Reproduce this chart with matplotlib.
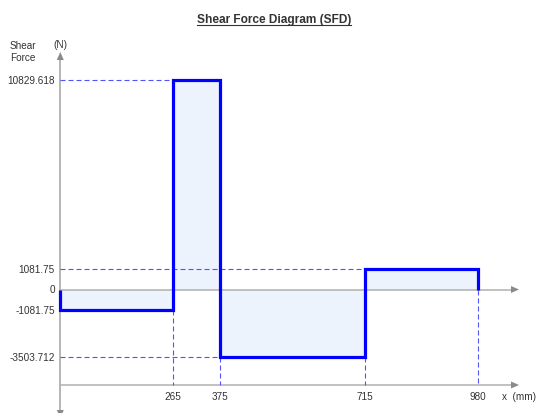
import matplotlib.pyplot as plt
from matplotlib.lines import Line2D
from matplotlib.patches import Polygon

plt.rcParams['font.family'] = ['Liberation Sans', 'DejaVu Sans']

# beam stations (mm) and constant shear in each span (N)
stations = [0, 265, 375, 715, 980]
shear = [-1081.75, 10829.618, -3503.712, 1081.75]
ytick_values = [10829.618, 1081.75, 0, -1081.75, -3503.712]
ytick_labels = ['10829.618', '1081.75', '0', '-1081.75', '-3503.712']
xtick_values = [265, 375, 715, 980]
xtick_labels = ['265', '375', '715', '980']

W, H = 540, 414
X0_PX, KX = 60.3, 0.4259      # pixel of x=0, px per mm
ZERO_PX, KY = 290.5, 0.0193   # pixel row of V=0, px per N

TEXT = '#333333'
AXIS = '#b0b0b0'
ARROW = '#8a8a8a'
DASH = '#5252ff'


def px_x(p):
    return (p - X0_PX) / KX


def px_y(p):
    return (ZERO_PX - p) / KY


fig = plt.figure(figsize=(W / 100, H / 100), dpi=100)
ax = fig.add_axes([0, 0, 1, 1])
ax.set_xlim(px_x(0), px_x(W))
ax.set_ylim(px_y(H), px_y(0))
ax.axis('off')

base = px_y(386)  # lower x axis

# step outline of the shear diagram
xs, ys = [stations[0]], [0]
for i, v in enumerate(shear):
    xs += [stations[i], stations[i + 1]]
    ys += [v, v]
xs.append(stations[-1])
ys.append(0)

ax.fill_between(xs, ys, 0, color='#edf3fd', lw=0, zorder=1)

# axes lines
ax.plot([0, 0], [px_y(58), px_y(H + 5)], color=AXIS, lw=1.3, zorder=2)
ax.plot([0, px_x(511)], [0, 0], color=AXIS, lw=1.1, zorder=2)
ax.plot([0, px_x(511)], [base, base], color=AXIS, lw=1.1, zorder=2)


def arrow(pts):
    ax.add_patch(Polygon([(px_x(a), px_y(b)) for a, b in pts], closed=True,
                         color=ARROW, lw=0, zorder=3))


arrow([(511, ZERO_PX - 3.5), (519, ZERO_PX), (511, ZERO_PX + 3.5)])
arrow([(511, 382.5), (519, 386), (511, 389.5)])
arrow([(56.8, 61), (60.3, 53), (63.8, 61)])
arrow([(56.8, 411), (60.3, 419), (63.8, 411)])

# dashed guides to the value levels and stations
for i, v in enumerate(shear):
    if stations[i] > 0:
        ax.plot([0, stations[i]], [v, v], color=DASH, lw=0.8,
                dashes=(4.5, 2.7), zorder=2)
for i, x in enumerate(stations[1:], start=1):
    left = shear[i - 1]
    right = shear[i] if i < len(shear) else 0
    ax.plot([x, x], [min(left, right, 0), base], color=DASH, lw=0.8,
            dashes=(4.5, 2.7), zorder=2)

ax.plot(xs, ys, color='#0000ff', lw=2.3, solid_joinstyle='miter',
        solid_capstyle='butt', zorder=5)

# tick labels
for v, lab in zip(ytick_values, ytick_labels):
    ax.text(px_x(55), v, lab, ha='right', va='center', fontsize=7.2,
            color=TEXT)
for x, lab in zip(xtick_values, xtick_labels):
    ax.text(x, px_y(397.5), lab, ha='center', va='center', fontsize=7.2,
            color=TEXT)

ax.text(px_x(502), px_y(397.5), 'x  (mm)', ha='left', va='center',
        fontsize=7.2, color=TEXT)
ax.text(px_x(22.5), px_y(52), 'Shear\nForce', ha='center', va='center',
        fontsize=7.2, color=TEXT, linespacing=1.25)
ax.text(0, px_y(44.8), '(N)', ha='center', va='center', fontsize=7.2,
        color=TEXT)

title = fig.text(274 / W, 1 - 19.5 / H, 'Shear Force Diagram (SFD)',
                 ha='center', va='center', fontsize=8.6, fontweight='bold',
                 color=TEXT)
bb = title.get_window_extent(fig.canvas.get_renderer())
fig.add_artist(Line2D([bb.x0 / W, bb.x1 / W], [1 - 25.5 / H] * 2,
                      transform=fig.transFigure, color=TEXT, lw=0.8))

fig.savefig('out.png', dpi=100)
